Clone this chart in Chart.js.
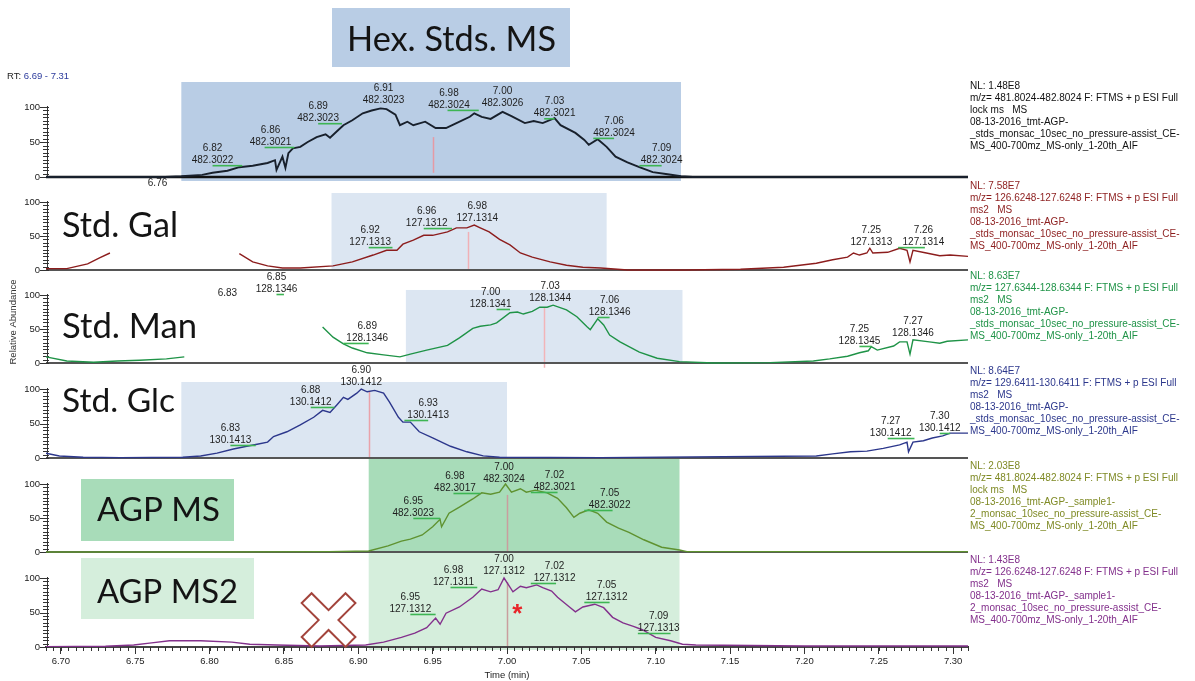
<!DOCTYPE html>
<html>
<head>
<meta charset="utf-8">
<script src="https://cdn.jsdelivr.net/npm/chart.js@4.4.1/dist/chart.umd.min.js"></script>
<style>
  html, body { margin: 0; padding: 0; background: #fff; }
  #wrap { position: relative; width: 1195px; height: 681px; }
  canvas { display: block; }
</style>
</head>
<body>
<div id="wrap"><canvas id="chrom" width="1195" height="681"></canvas></div>
<script>
// ---------- axes ----------
const timeMin = 6.69, timeMax = 7.31;
const xTicks = [6.70, 6.75, 6.80, 6.85, 6.90, 6.95, 7.00, 7.05, 7.10, 7.15, 7.20, 7.25, 7.30];
const yTicks = [0, 50, 100];

// ---------- extracted ion chromatograms (time in min, relative abundance %) ----------
const hexTime = [6.690, 6.740, 6.770, 6.781, 6.795, 6.802, 6.812, 6.820, 6.829, 6.839, 6.844, 6.845, 6.849, 6.851, 6.853, 6.856, 6.861, 6.866, 6.872, 6.878, 6.881, 6.886, 6.890, 6.896, 6.903, 6.909, 6.915, 6.919, 6.925, 6.928, 6.933, 6.937, 6.945, 6.952, 6.959, 6.966, 6.975, 6.978, 6.983, 6.989, 6.997, 7.003, 7.012, 7.018, 7.024, 7.032, 7.036, 7.046, 7.052, 7.055, 7.061, 7.067, 7.073, 7.081, 7.089, 7.098, 7.108, 7.117, 7.125, 7.200, 7.310];
const hexAbund = [0, 0, 0, 1, 3, 6, 9, 14, 16, 20, 24, 10, 29, 13, 34, 41, 43, 50, 57, 61, 56, 66, 74, 81, 91, 95, 98, 97, 89, 74, 79, 74, 79, 70, 70, 77, 86, 91, 86, 83, 93, 87, 77, 80, 77, 84, 74, 63, 53, 46, 54, 43, 29, 21, 14, 7, 4, 1, 0, 0, 0];

const galTime = [6.690, 6.704, 6.718, 6.726, 6.733, 6.760, 6.820, 6.829, 6.839, 6.849, 6.861, 6.883, 6.896, 6.910, 6.919, 6.926, 6.930, 6.937, 6.944, 6.950, 6.960, 6.966, 6.973, 6.978, 6.982, 6.988, 6.995, 7.002, 7.009, 7.017, 7.029, 7.040, 7.051, 7.063, 7.081, 7.120, 7.157, 7.186, 7.208, 7.219, 7.229, 7.233, 7.237, 7.242, 7.244, 7.246, 7.256, 7.264, 7.269, 7.271, 7.273, 7.282, 7.291, 7.298, 7.310];
const galAbund = [2, 2, 9, 18, 25, null, 24, 12, 6, 3, 3, 6, 12, 22, 29, 29, 38, 44, 51, 51, 56, 62, 62, 66, 62, 56, 45, 37, 25, 19, 12, 7, 4, 3, 0, 0, 1, 4, 10, 15, 19, 25, 22, 25, 32, 25, 26, 32, 29, 12, 29, 25, 21, 22, 20];

const manTime = [6.690, 6.704, 6.722, 6.738, 6.753, 6.771, 6.783, 6.800, 6.876, 6.883, 6.890, 6.896, 6.906, 6.917, 6.928, 6.935, 6.946, 6.960, 6.968, 6.977, 6.982, 6.989, 6.993, 7.002, 7.007, 7.011, 7.017, 7.022, 7.027, 7.031, 7.040, 7.047, 7.054, 7.056, 7.061, 7.065, 7.069, 7.076, 7.089, 7.101, 7.116, 7.139, 7.177, 7.206, 7.217, 7.229, 7.237, 7.243, 7.245, 7.249, 7.260, 7.264, 7.269, 7.271, 7.273, 7.284, 7.291, 7.296, 7.310];
const manAbund = [9, 3, 1, 3, 4, 6, 9, null, 53, 38, 28, 22, 15, 12, 9, 13, 19, 26, 37, 51, 54, 56, 59, 74, 75, 72, 76, 82, 82, 85, 78, 68, 53, 49, 65, 56, 41, 31, 16, 7, 2, 0, 0.5, 3, 6, 10, 15, 18, 24, 19, 25, 31, 31, 13, 34, 31, 29, 32, 34];

const glcTime = [6.690, 6.699, 6.715, 6.740, 6.782, 6.794, 6.805, 6.816, 6.825, 6.832, 6.839, 6.843, 6.852, 6.861, 6.870, 6.876, 6.881, 6.886, 6.890, 6.893, 6.899, 6.902, 6.906, 6.911, 6.917, 6.921, 6.927, 6.930, 6.935, 6.941, 6.950, 6.962, 6.973, 6.984, 6.995, 7.063, 7.208, 7.219, 7.231, 7.242, 7.253, 7.264, 7.269, 7.270, 7.273, 7.280, 7.286, 7.293, 7.298, 7.310];
const glcAbund = [7, 3, 1, 0.5, 1, 3, 7, 13, 17, 20, 23, 31, 38, 48, 59, 69, 66, 78, 88, 85, 94, 100, 96, 98, 94, 81, 59, 52, 52, 38, 29, 17, 9, 3, 1, 0.5, 3, 6, 9, 10, 14, 19, 23, 9, 23, 25, 29, 32, 36, 36];

const agpMsTime = [6.690, 6.800, 6.880, 6.907, 6.920, 6.929, 6.935, 6.943, 6.950, 6.955, 6.956, 6.961, 6.968, 6.977, 6.983, 6.989, 6.995, 6.999, 7.003, 7.009, 7.013, 7.019, 7.027, 7.034, 7.040, 7.045, 7.049, 7.055, 7.061, 7.067, 7.075, 7.082, 7.092, 7.104, 7.116, 7.121, 7.200, 7.310];
const agpMsAbund = [0, 0, 0.5, 1.5, 9, 16, 19, 25, 37, 48, 37, 57, 66, 78, 87, 85, 88, 100, 88, 93, 88, 91, 87, 79, 65, 51, 57, 62, 57, 44, 35, 29, 18, 7, 3, 0.5, 0.5, 0.5];

const agpMs2Time = [6.690, 6.730, 6.749, 6.761, 6.773, 6.794, 6.815, 6.827, 6.845, 6.874, 6.905, 6.917, 6.929, 6.938, 6.946, 6.952, 6.955, 6.959, 6.968, 6.977, 6.983, 6.989, 6.994, 6.998, 7.001, 7.004, 7.009, 7.013, 7.020, 7.024, 7.030, 7.034, 7.042, 7.046, 7.051, 7.059, 7.065, 7.071, 7.078, 7.085, 7.091, 7.100, 7.110, 7.118, 7.127, 7.200, 7.310];
const agpMs2Abund = [0.5, 1, 3, 6, 9, 9, 7, 4, 3, 1.5, 3, 7, 14, 20, 28, 42, 33, 49, 58, 72, 84, 80, 83, 100, 90, 80, 88, 86, 90, 86, 81, 72, 58, 51, 58, 62, 57, 43, 35, 30, 25, 14, 9, 4, 3, 1.5, 1.5];

// ---------- peak annotations (apex RT, m/z) ----------
const hexPeakRT = ['6.82', '6.86', '6.89', '6.91', '6.98', '7.00', '7.03', '7.06', '7.09'];
const hexPeakMZ = ['482.3022', '482.3021', '482.3023', '482.3023', '482.3024', '482.3026', '482.3021', '482.3024', '482.3024'];
const galPeakRT = ['6.92', '6.96', '6.98', '7.25', '7.26'];
const galPeakMZ = ['127.1313', '127.1312', '127.1314', '127.1313', '127.1314'];
const manPeakRT = ['6.85', '6.83', '6.89', '7.00', '7.03', '7.06', '7.25', '7.27'];
const manPeakMZ = ['128.1346', '', '128.1346', '128.1341', '128.1344', '128.1346', '128.1345', '128.1346'];
const glcPeakRT = ['6.83', '6.88', '6.90', '6.93', '7.27', '7.30'];
const glcPeakMZ = ['130.1413', '130.1412', '130.1412', '130.1413', '130.1412', '130.1412'];
const agpMsPeakRT = ['6.95', '6.98', '7.00', '7.02', '7.05'];
const agpMsPeakMZ = ['482.3023', '482.3017', '482.3024', '482.3021', '482.3022'];
const agpMs2PeakRT = ['6.95', '6.98', '7.00', '7.02', '7.05', '7.09'];
const agpMs2PeakMZ = ['127.1312', '127.1311', '127.1312', '127.1312', '127.1312', '127.1313'];

// ---------- trace headers ----------
const hexHeader = ['NL: 1.48E8', 'm/z= 481.8024-482.8024 F: FTMS + p ESI Full', 'lock ms   MS', '08-13-2016_tmt-AGP-', '_stds_monsac_10sec_no_pressure-assist_CE-', 'MS_400-700mz_MS-only_1-20th_AIF'];
const galHeader = ['NL: 7.58E7', 'm/z= 126.6248-127.6248 F: FTMS + p ESI Full', 'ms2   MS', '08-13-2016_tmt-AGP-', '_stds_monsac_10sec_no_pressure-assist_CE-', 'MS_400-700mz_MS-only_1-20th_AIF'];
const manHeader = ['NL: 8.63E7', 'm/z= 127.6344-128.6344 F: FTMS + p ESI Full', 'ms2   MS', '08-13-2016_tmt-AGP-', '_stds_monsac_10sec_no_pressure-assist_CE-', 'MS_400-700mz_MS-only_1-20th_AIF'];
const glcHeader = ['NL: 8.64E7', 'm/z= 129.6411-130.6411 F: FTMS + p ESI Full', 'ms2   MS', '08-13-2016_tmt-AGP-', '_stds_monsac_10sec_no_pressure-assist_CE-', 'MS_400-700mz_MS-only_1-20th_AIF'];
const agpMsHeader = ['NL: 2.03E8', 'm/z= 481.8024-482.8024 F: FTMS + p ESI Full', 'lock ms   MS', '08-13-2016_tmt-AGP-_sample1-', '2_monsac_10sec_no_pressure-assist_CE-', 'MS_400-700mz_MS-only_1-20th_AIF'];
const agpMs2Header = ['NL: 1.43E8', 'm/z= 126.6248-127.6248 F: FTMS + p ESI Full', 'ms2   MS', '08-13-2016_tmt-AGP-_sample1-', '2_monsac_10sec_no_pressure-assist_CE-', 'MS_400-700mz_MS-only_1-20th_AIF'];

// ---------- layout ----------
const PLOT_BOTTOM = 647;           // chart-area bottom (baseline of the last trace)
const LABEL_FONT = '10px "Liberation Sans", Arial, sans-serif';
const TICK_FONT = '9.5px "Liberation Sans", Arial, sans-serif';

// each trace gets its own hidden y scale stacked down the page
const panels = [
  { id: 'yHex', zeroPx: 177, fullPx: 107, time: hexTime, abund: hexAbund, color: '#18202c', width: 1.9,
    textColor: '#111111', baseColor: '#111111', baseWidth: 2.5, header: hexHeader, headerTop: 86,
    win: [6.781, 7.117, 135.7, -5.7], winColor: '#b9cde5',
    marker: [6.950, 57, 6], markerColor: '#e59aa4',
    rt: hexPeakRT, mz: hexPeakMZ,
    at: [[6.802, 24], [6.841, 50], [6.873, 84], [6.917, 109], [6.961, 103], [6.997, 106], [7.032, 91], [7.072, 63], [7.104, 24]],
    ticks: [[6.802, 6.822], [6.837, 6.857], [6.873, 6.889], null, [6.960, 6.981], null, [7.025, 7.032], [7.058, 7.072], [7.089, 7.104]] },
  { id: 'yGal', zeroPx: 270, fullPx: 202, time: galTime, abund: galAbund, color: '#8c1d1d', width: 1.4,
    textColor: '#8c1d1d', baseColor: '#555555', baseWidth: 2, header: galHeader, headerTop: 186,
    win: [6.882, 7.067, 113.2, -1.5], winColor: '#dce6f2',
    marker: [6.974, 56, 0], markerColor: '#f0b0b6',
    rt: galPeakRT, mz: galPeakMZ,
    at: [[6.908, 41], [6.946, 69], [6.980, 76.5], [7.245, 41], [7.280, 41]],
    ticks: [[6.907, 6.923], [6.944, 6.963], null, null, [7.263, 7.281]] },
  { id: 'yMan', zeroPx: 363, fullPx: 295, time: manTime, abund: manAbund, color: '#1f9347', width: 1.4,
    textColor: '#1f9347', baseColor: '#555555', baseWidth: 2, header: manHeader, headerTop: 276,
    win: [6.932, 7.118, 107.4, -1.5], winColor: '#dce6f2',
    marker: [7.025, 81, -7], markerColor: '#f2b4b8',
    rt: manPeakRT, mz: manPeakMZ,
    at: [[6.845, 108.8], [6.812, 85.3], [6.906, 36.8], [6.989, 86.8], [7.029, 95.6], [7.069, 75], [7.237, 32.4], [7.273, 44.1]],
    ticks: [[6.845, 6.850], null, [6.890, 6.907], [6.993, 7.002], null, [7.061, 7.069], [7.237, 7.245], null] },
  { id: 'yGlc', zeroPx: 458, fullPx: 389, time: glcTime, abund: glcAbund, color: '#2c378c', width: 1.4,
    textColor: '#2c378c', baseColor: '#555555', baseWidth: 2, header: glcHeader, headerTop: 371,
    win: [6.781, 7.000, 110.1, -1.4], winColor: '#dce6f2',
    marker: [6.907, 96, 0], markerColor: '#e9a2aa',
    rt: glcPeakRT, mz: glcPeakMZ,
    at: [[6.814, 26.1], [6.868, 81.2], [6.902, 110.1], [6.947, 62.3], [7.258, 36.2], [7.291, 43.5]],
    ticks: [[6.814, 6.831], [6.868, 6.884], null, [6.931, 6.947], [7.256, 7.274], [7.291, 7.298]] },
  { id: 'yAgpMs', zeroPx: 552, fullPx: 484, time: agpMsTime, abund: agpMsAbund, color: '#5f9230', width: 1.4,
    textColor: '#7f8a25', baseColor: '#555555', baseWidth: 2, header: agpMsHeader, headerTop: 466,
    win: [6.907, 7.116, 138.2, -0.7], winColor: '#a8dcb9',
    marker: [7.000, 84, 0], markerColor: '#c99e9e',
    rt: agpMsPeakRT, mz: agpMsPeakMZ,
    at: [[6.937, 57.4], [6.965, 94.1], [6.998, 107.4], [7.032, 95.6], [7.069, 69.1]],
    ticks: [[6.937, 6.955], [6.964, 6.982], null, [7.016, 7.034], [7.052, 7.071]] },
  { id: 'yAgpMs2', zeroPx: 647, fullPx: 578, time: agpMs2Time, abund: agpMs2Abund, color: '#83308c', width: 1.4,
    textColor: '#83308c', baseColor: '#444444', baseWidth: 2, header: agpMs2Header, headerTop: 560,
    win: [6.907, 7.116, 136.2, -4.3], winColor: '#d5eedc',
    marker: [7.000, 94, 0], markerColor: '#c99e9e',
    rt: agpMs2PeakRT, mz: agpMs2PeakMZ,
    at: [[6.935, 55.1], [6.964, 94.2], [6.998, 110.1], [7.032, 100], [7.067, 72.5], [7.102, 27.5]],
    ticks: [[6.935, 6.952], [6.962, 6.980], null, [7.016, 7.033], [7.052, 7.069], [7.088, 7.110]] }
];

// panel names drawn as large captions (pixel layout)
const captions = [
  { text: 'Hex. Stds. MS', left: 347, width: 209, base: 51, box: [332, 8, 238, 59], boxColor: '#b9cde5' },
  { text: 'Std. Gal', left: 62, width: 116, base: 237 },
  { text: 'Std. Man', left: 62, width: 135, base: 338 },
  { text: 'Std. Glc', left: 62, width: 113, base: 412 },
  { text: 'AGP MS', left: 97, width: 123, base: 521, box: [81, 479, 153, 62], boxColor: '#a8dcb9' },
  { text: 'AGP MS2', left: 97, width: 141, base: 603, box: [81, 558, 173, 61], boxColor: '#d5eedc' }
];

// scale bounds so that 0 and 100 % land on each panel's baseline / top tick
function panelScale(p) {
  const k = (p.zeroPx - p.fullPx) / 100;
  return { type: 'linear', display: false, min: -(PLOT_BOTTOM - p.zeroPx) / k, max: p.zeroPx / k };
}

const scales = {
  x: {
    type: 'linear', position: 'bottom', min: timeMin, max: timeMax,
    afterBuildTicks: s => { s.ticks = xTicks.map(v => ({ value: v })); },
    afterFit: s => { s.height = 681 - PLOT_BOTTOM; },
    ticks: { autoSkip: false, maxRotation: 0, minRotation: 0, padding: 2, color: '#222',
      font: { family: '"Liberation Sans", Arial, sans-serif', size: 9.5 },
      callback: v => Number(v).toFixed(2) },
    grid: { drawOnChartArea: false, drawTicks: true, tickLength: 7, color: '#333', lineWidth: 1 },
    border: { display: true, color: '#333', width: 1.5 },
    title: { display: true, text: 'Time (min)', color: '#222',
      font: { family: '"Liberation Sans", Arial, sans-serif', size: 9.5 }, padding: { top: 0, bottom: 0 } }
  }
};
panels.forEach(p => { scales[p.id] = panelScale(p); });

const datasets = panels.map(p => ({
  label: p.header[1],
  data: p.time.map((t, i) => ({ x: t, y: p.abund[i] })),
  yAxisID: p.id,
  borderColor: p.color,
  borderWidth: p.width,
  pointRadius: 0,
  fill: false,
  tension: 0,
  spanGaps: false
}));

function fitFont(ctx, text, width, family) {
  ctx.font = '100px ' + family;
  return 100 * width / ctx.measureText(text).width;
}

const chromPlugin = {
  id: 'chromPanels',
  beforeDraw(chart) {
    const { ctx } = chart;
    const xs = chart.scales.x;
    ctx.save();
    // retention windows
    panels.forEach(p => {
      const ys = chart.scales[p.id];
      const [t1, t2, vTop, vBot] = p.win;
      const x1 = xs.getPixelForValue(t1), x2 = xs.getPixelForValue(t2);
      const y1 = ys.getPixelForValue(vTop), y2 = ys.getPixelForValue(vBot);
      ctx.fillStyle = p.winColor;
      ctx.fillRect(x1, y1, x2 - x1, y2 - y1);
    });
    // caption boxes
    captions.forEach(c => {
      if (!c.box) return;
      ctx.fillStyle = c.boxColor;
      ctx.fillRect(c.box[0], c.box[1], c.box[2], c.box[3]);
    });
    ctx.restore();
  },
  beforeDatasetsDraw(chart) {
    const { ctx, chartArea } = chart;
    const xs = chart.scales.x;
    ctx.save();
    const axisX = chartArea.left + 1;
    panels.forEach(p => {
      const ys = chart.scales[p.id];
      const y0 = ys.getPixelForValue(0), y100 = ys.getPixelForValue(100);
      // apex marker
      const [mt, mv1, mv2] = p.marker;
      ctx.strokeStyle = p.markerColor;
      ctx.lineWidth = 1.5;
      ctx.beginPath();
      ctx.moveTo(Math.round(xs.getPixelForValue(mt)) + 0.5, ys.getPixelForValue(mv1));
      ctx.lineTo(Math.round(xs.getPixelForValue(mt)) + 0.5, ys.getPixelForValue(mv2));
      ctx.stroke();
      // baseline
      ctx.strokeStyle = p.baseColor;
      ctx.lineWidth = p.baseWidth;
      ctx.beginPath();
      ctx.moveTo(chartArea.left, y0);
      ctx.lineTo(chartArea.right, y0);
      ctx.stroke();
      // y axis with minor ticks every 5 %
      ctx.strokeStyle = '#333';
      ctx.lineWidth = 1;
      ctx.beginPath();
      ctx.moveTo(axisX + 0.5, y100 - 1);
      ctx.lineTo(axisX + 0.5, y0);
      for (let v = 0; v <= 100; v += 5) {
        const y = Math.round(ys.getPixelForValue(v)) + 0.5;
        const major = yTicks.includes(v);
        ctx.moveTo(major ? axisX - 7 : axisX - 4, y);
        ctx.lineTo(axisX + 2, y);
      }
      ctx.stroke();
      ctx.fillStyle = '#222';
      ctx.font = TICK_FONT;
      ctx.textAlign = 'right';
      ctx.textBaseline = 'middle';
      yTicks.forEach(v => ctx.fillText(String(v), axisX - 7, ys.getPixelForValue(v)));
    });
    // minor time ticks
    ctx.strokeStyle = '#333';
    ctx.lineWidth = 1;
    ctx.beginPath();
    for (let i = 0; i <= 124; i++) {
      const t = timeMin + i * 0.005;
      const x = Math.round(xs.getPixelForValue(t)) + 0.5;
      ctx.moveTo(x, chartArea.bottom);
      ctx.lineTo(x, chartArea.bottom + 4);
    }
    ctx.stroke();
    // captions
    ctx.fillStyle = '#141414';
    ctx.textAlign = 'left';
    ctx.textBaseline = 'alphabetic';
    captions.forEach(c => {
      const fam = 'Lato, "Open Sans", sans-serif';
      const size = fitFont(ctx, c.text, c.width, fam);
      ctx.font = size.toFixed(2) + 'px ' + fam;
      ctx.fillText(c.text, c.left, c.base);
    });
    ctx.restore();
  },
  afterDatasetsDraw(chart) {
    const { ctx, chartArea } = chart;
    const xs = chart.scales.x;
    ctx.save();
    ctx.font = LABEL_FONT;
    panels.forEach(p => {
      const ys = chart.scales[p.id];
      // peak labels with their green apex ticks
      p.rt.forEach((rt, i) => {
        const x = xs.getPixelForValue(p.at[i][0]);
        const y = ys.getPixelForValue(p.at[i][1]);
        if (p.ticks[i]) {
          ctx.strokeStyle = '#3db553';
          ctx.lineWidth = 1.6;
          ctx.beginPath();
          ctx.moveTo(xs.getPixelForValue(p.ticks[i][0]), y + 5.5);
          ctx.lineTo(xs.getPixelForValue(p.ticks[i][1]), y + 5.5);
          ctx.stroke();
        }
        ctx.fillStyle = '#1e1e1e';
        ctx.textAlign = 'center';
        ctx.textBaseline = 'middle';
        ctx.fillText(rt, x, y - 12);
        if (p.mz[i]) ctx.fillText(p.mz[i], x, y);
      });
      // trace header
      ctx.fillStyle = p.textColor;
      ctx.textAlign = 'left';
      ctx.textBaseline = 'middle';
      p.header.forEach((line, i) => ctx.fillText(line, chartArea.right + 2, p.headerTop + i * 12));
    });

    // partly hidden apex label above the galactose trace
    const yGal = chart.scales.yGal;
    ctx.save();
    ctx.beginPath();
    ctx.rect(0, 0, chart.width, yGal.getPixelForValue(119));
    ctx.clip();
    ctx.fillStyle = '#1e1e1e';
    ctx.textAlign = 'center';
    ctx.fillText('6.76', xs.getPixelForValue(6.765), yGal.getPixelForValue(127));
    ctx.restore();

    // excluded region and asterisk on the AGP MS2 trace
    const y6 = chart.scales.yAgpMs2;
    const cx = xs.getPixelForValue(6.880), cy = y6.getPixelForValue(39);
    ctx.save();
    ctx.translate(cx, cy);
    ctx.rotate(Math.PI / 4);
    const a = 7, L = 31;
    ctx.beginPath();
    [[-a, -L], [a, -L], [a, -a], [L, -a], [L, a], [a, a], [a, L], [-a, L], [-a, a], [-L, a], [-L, -a], [-a, -a]]
      .forEach(([px, py], i) => (i ? ctx.lineTo(px, py) : ctx.moveTo(px, py)));
    ctx.closePath();
    ctx.fillStyle = '#ffffff';
    ctx.fill();
    ctx.strokeStyle = '#a3443c';
    ctx.lineWidth = 2;
    ctx.stroke();
    ctx.restore();

    ctx.fillStyle = '#e8262a';
    ctx.font = 'bold 26px "Liberation Sans", Arial, sans-serif';
    ctx.textAlign = 'center';
    ctx.textBaseline = 'alphabetic';
    ctx.fillText('*', xs.getPixelForValue(7.007), y6.getPixelForValue(58) + 15);

    // retention-time range
    ctx.font = '9.5px "Liberation Sans", Arial, sans-serif';
    ctx.textAlign = 'left';
    ctx.textBaseline = 'middle';
    ctx.fillStyle = '#222';
    ctx.fillText('RT:', 7, 76);
    const w = ctx.measureText('RT: ').width;
    ctx.fillStyle = '#2b3a9c';
    ctx.fillText(xs.min.toFixed(2) + ' - ' + xs.max.toFixed(2), 7 + w, 76);

    // shared y title
    ctx.save();
    ctx.translate(13, 322);
    ctx.rotate(-Math.PI / 2);
    ctx.fillStyle = '#333';
    ctx.textAlign = 'center';
    ctx.fillText('Relative Abundance', 0, 0);
    ctx.restore();

    ctx.restore();
  }
};

new Chart(document.getElementById('chrom'), {
  type: 'line',
  data: { datasets },
  options: {
    responsive: false,
    animation: false,
    events: [],
    layout: { padding: { left: 46, right: 1195 - 968, top: 0, bottom: 0 } },
    scales,
    plugins: { legend: { display: false }, tooltip: { enabled: false } }
  },
  plugins: [chromPlugin]
});
</script>
</body>
</html>
